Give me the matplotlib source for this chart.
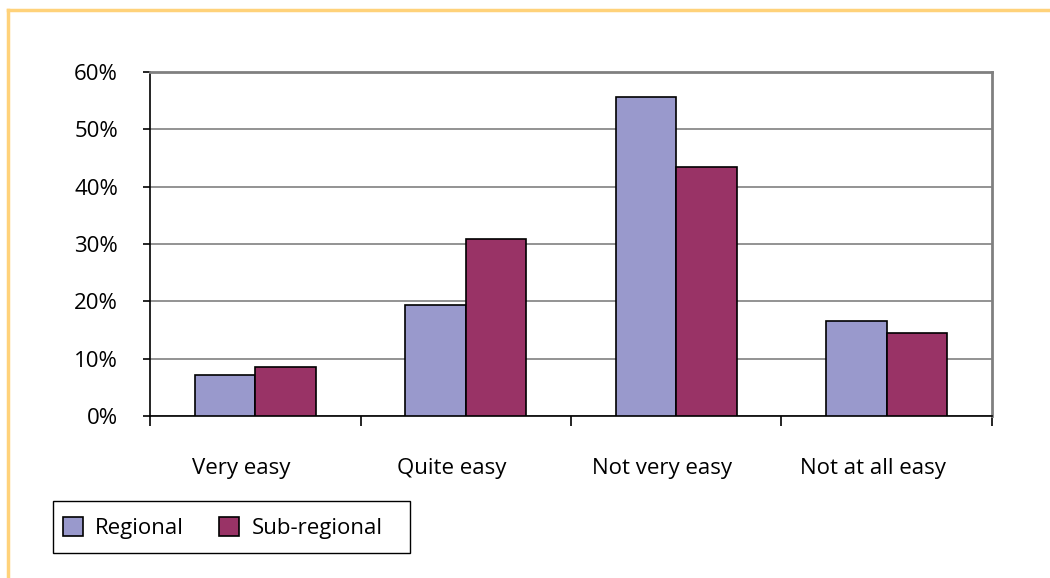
import matplotlib
matplotlib.use("Agg")
import matplotlib.pyplot as plt
import matplotlib.transforms as mtransforms
from matplotlib.patches import Patch, Rectangle
from matplotlib.lines import Line2D
import numpy as np

categories = ["Very easy", "Quite easy", "Not very easy", "Not at all easy"]
regional = [7.2, 19.4, 55.7, 16.6]
sub_regional = [8.6, 30.9, 43.5, 14.5]
y_ticks = [0, 10, 20, 30, 40, 50, 60]
y_labels = ["0%", "10%", "20%", "30%", "40%", "50%", "60%"]

plt.rcParams["font.family"] = ["Open Sans", "DejaVu Sans"]

W, H = 1050, 578
fig = plt.figure(figsize=(W / 100, H / 100), dpi=100)

# outer frame (top and left edges visible)
fig.add_artist(Line2D([8 / W, 1.0], [1 - 10 / H, 1 - 10 / H], color="#FFD27A", lw=2.5))
fig.add_artist(Line2D([8 / W, 8 / W], [1 - 10 / H, 0.0], color="#FFD27A", lw=2.5))

ax = fig.add_axes([150 / W, 1 - 416 / H, 842 / W, 344 / H])

x = np.arange(len(categories))
w = 0.2875
ax.bar(x - w / 2, regional, w, color="#9999CC", edgecolor="black", linewidth=1.2, zorder=3)
ax.bar(x + w / 2, sub_regional, w, color="#993366", edgecolor="black", linewidth=1.2, zorder=3)

ax.set_xlim(-0.5, len(categories) - 0.5)
ax.set_ylim(0, 60)
ax.set_yticks(y_ticks)
ax.set_yticklabels(y_labels, fontsize=16)
ax.yaxis.grid(True, color="#808080", linewidth=1.2, zorder=0)
ax.tick_params(axis="y", length=5, width=1.2, direction="out", pad=18)

ax.set_xticks(x)
ax.set_xticklabels(categories, fontsize=16)
ax.tick_params(axis="x", length=0, pad=30)
shift = mtransforms.ScaledTranslation(-14 / 100, 0, fig.dpi_scale_trans)
for lbl in ax.get_xticklabels():
    lbl.set_transform(lbl.get_transform() + shift)
ax.set_xticks(np.arange(-0.5, len(categories)), minor=True)
ax.tick_params(axis="x", which="minor", length=7, width=1.2, direction="out")

for side in ("top", "right"):
    ax.spines[side].set_color("#808080")
    ax.spines[side].set_linewidth(2)
for side in ("left", "bottom"):
    ax.spines[side].set_color("black")
    ax.spines[side].set_linewidth(1.2)

# legend box
fig.add_artist(Rectangle((53 / W, 1 - 553 / H), 357 / W, 52 / H, transform=fig.transFigure,
                         facecolor="white", edgecolor="black", linewidth=1.0))
handles = [Patch(facecolor="#9999CC", edgecolor="black", linewidth=1.2, label="Regional"),
           Patch(facecolor="#993366", edgecolor="black", linewidth=1.2, label="Sub-regional")]
leg = fig.legend(handles=handles, loc="center left",
                 bbox_to_anchor=(56 / W, 1 - 528 / H),
                 ncol=2, fontsize=16, frameon=False,
                 handlelength=0.9, handleheight=0.9,
                 handletextpad=0.55, columnspacing=1.6, borderaxespad=0,
                 borderpad=0.3)

fig.savefig("out.png", dpi=100, facecolor="white")
